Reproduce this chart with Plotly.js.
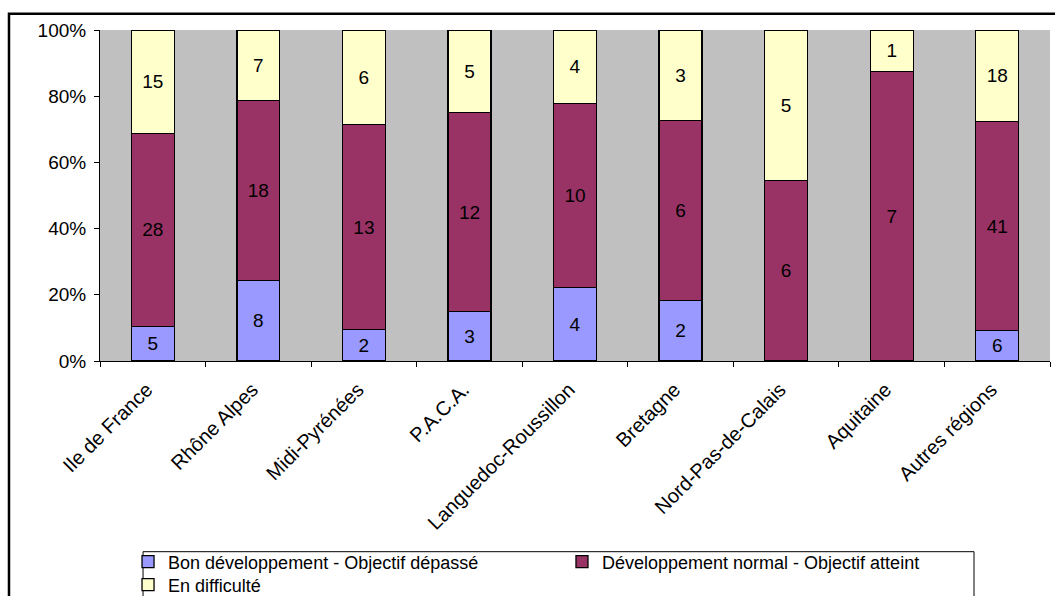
<!DOCTYPE html>
<html>
<head>
<meta charset="utf-8">
<script src="https://cdn.plot.ly/plotly-3.0.1.min.js"></script>
<style>
html,body{margin:0;padding:0;background:#fff;}
#chart{width:1055px;height:596px;}
</style>
</head>
<body>
<div id="chart"></div>
<script>
var categories = ["Ile de France", "Rhône Alpes", "Midi-Pyrénées", "P.A.C.A.", "Languedoc-Roussillon", "Bretagne", "Nord-Pas-de-Calais", "Aquitaine", "Autres régions"];
var bonDeveloppement = [5, 8, 2, 3, 4, 2, 0, 0, 6];
var developpementNormal = [28, 18, 13, 12, 10, 6, 6, 7, 41];
var enDifficulte = [15, 7, 6, 5, 4, 3, 5, 1, 18];
var seriesNames = ["Bon développement - Objectif dépassé", "Développement normal - Objectif atteint", "En difficulté"];
var seriesColors = ["#9999FF", "#993366", "#FFFFCC"];
var yTickVals = [0, 20, 40, 60, 80, 100];
var yTickText = ["0%", "20%", "40%", "60%", "80%", "100%"];

var FONT = "'Liberation Sans', Arial, sans-serif";
var seriesValues = [bonDeveloppement, developpementNormal, enDifficulte];
var legendIds = ["legend", "legend2", "legend3"];
var traces = seriesValues.map(function (vals, i) {
  return {
    type: "bar",
    name: seriesNames[i],
    legend: legendIds[i],
    x: categories,
    y: vals.map(function (v) { return v > 0 ? v : null; }),
    text: vals.map(function (v) { return v > 0 ? String(v) : ""; }),
    textposition: "inside",
    insidetextanchor: "middle",
    textangle: 0,
    constraintext: "none",
    textfont: {family: FONT, size: 19, color: "#000"},
    marker: {color: seriesColors[i], line: {color: "#000", width: 1.3}},
    hoverinfo: "name+y"
  };
});

function legendAt(xPaper, yPaper) {
  return {
    orientation: "h",
    x: xPaper, xanchor: "left",
    y: yPaper, yanchor: "middle",
    bgcolor: "rgba(0,0,0,0)",
    borderwidth: 0,
    font: {family: FONT, size: 18, color: "#000"},
    itemwidth: 30
  };
}

var layout = {
  width: 1055,
  height: 596,
  barmode: "stack",
  barnorm: "percent",
  bargap: 0.593,
  paper_bgcolor: "#ffffff",
  plot_bgcolor: "#C0C0C0",
  margin: {l: 100, r: 5, t: 30, b: 235, pad: 0, autoexpand: false},
  font: {family: FONT, size: 19, color: "#000"},
  showlegend: true,
  xaxis: {
    type: "category",
    tickangle: -45,
    tickson: "boundaries",
    ticks: "outside",
    ticklen: 5,
    tickcolor: "#000",
    showline: true,
    linecolor: "#000",
    linewidth: 1,
    showgrid: false,
    tickfont: {family: FONT, size: 20},
    ticklabelstandoff: 8,
    ticklabelshift: -6,
    automargin: false
  },
  yaxis: {
    range: [0, 100],
    tickvals: yTickVals,
    ticktext: yTickText,
    ticks: "outside",
    ticklen: 5,
    tickcolor: "#000",
    showline: true,
    linecolor: "#000",
    linewidth: 1,
    showgrid: false,
    zeroline: false,
    tickfont: {family: FONT, size: 19},
    ticklabelstandoff: 4,
    automargin: false
  },
  legend: legendAt(0.0295, -0.6073),
  legend2: legendAt(0.4863, -0.6073),
  legend3: legendAt(0.0295, -0.6767),
  shapes: [
    {
      type: "rect", xref: "paper", yref: "paper",
      x0: -0.0958, x1: 1.2, y0: -1.0, y1: 1.0492,
      line: {color: "#000", width: 2.5}, fillcolor: "rgba(0,0,0,0)", layer: "below"
    },
    {
      type: "rect", xref: "paper", yref: "paper",
      x0: 0.0453, x1: 0.92, y0: -0.75, y1: -0.5761,
      line: {color: "#000", width: 1}, fillcolor: "#ffffff", layer: "below"
    }
  ]
};

Plotly.newPlot("chart", traces, layout, {displayModeBar: false, staticPlot: true});
</script>
</body>
</html>
